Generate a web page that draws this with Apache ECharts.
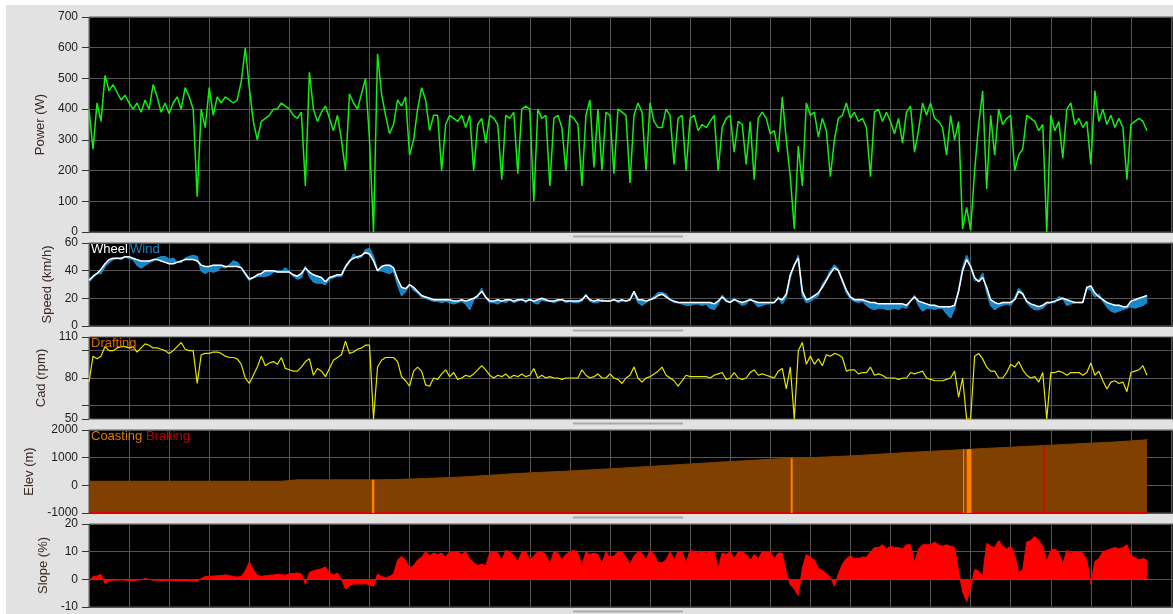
<!DOCTYPE html>
<html><head><meta charset="utf-8">
<script src="https://cdn.jsdelivr.net/npm/echarts@6/dist/echarts.min.js"></script>
<style>html,body{margin:0;padding:0;background:#e2e2e2;overflow:hidden}#c{width:1173px;height:614px}</style>
</head><body><div id="c"></div><script>
// ---- data (one sample every 0.1 grid division) ----
const STEP = 0.1;
const ELEV_STEP = 0.4;
const X_MAX = 27.05;

const POWER = [
 400,270,420,360,510,460,480,455,430,445,
 420,400,420,390,430,400,480,440,390,420,
 385,420,440,400,470,440,400,115,400,340,
 470,380,440,420,440,430,420,430,490,600,
 470,360,300,360,370,380,400,400,420,410,
 400,380,370,390,150,520,400,360,390,410,
 370,330,380,300,200,450,420,400,450,500,
 300,0,580,450,380,320,350,430,410,440,
 250,300,400,470,430,330,380,380,200,350,
 380,370,360,380,340,380,200,350,370,290,
 380,370,350,170,380,370,390,190,400,410,
 400,100,400,370,380,150,370,380,340,200,
 380,370,350,150,380,430,210,400,200,390,
 380,190,400,390,380,160,380,420,390,200,
 420,360,340,340,400,380,220,370,380,200,
 370,380,330,350,340,360,380,200,340,370,
 380,260,360,350,220,360,170,370,390,370,
 320,330,260,440,300,180,10,280,150,420,
 380,390,310,370,330,180,300,370,380,420,
 370,390,360,370,340,180,390,400,360,390,
 360,320,370,290,390,410,260,330,420,380,
 420,370,360,340,250,380,300,360,10,80,
 5,200,350,460,140,380,250,400,350,370,
 380,200,250,270,380,370,360,330,350,0,
 380,330,360,240,400,420,350,370,340,360,
 220,460,360,400,350,380,340,370,340,170,
 350,360,370,360,330
];
const WHEEL = [
 33,36,38,41,45,48,49,49,49,50,
 50,49,48,47,47,47,48,48,47,46,
 45,45,46,47,48,48,48,47,44,43,
 43,44,44,44,43,43,43,43,42,38,
 34,35,37,38,40,40,40,39,39,39,
 39,37,36,38,42,39,37,36,35,32,
 35,36,37,37,43,47,49,50,51,53,
 52,47,40,43,44,44,42,34,28,27,
 30,28,25,22,21,20,19,19,19,19,
 19,18,18,19,18,19,20,22,25,21,
 18,18,19,18,19,19,18,19,19,18,
 19,18,19,20,19,18,18,19,19,18,
 18,18,18,19,22,19,18,19,18,18,
 18,19,18,19,18,19,25,19,19,18,
 19,20,22,23,21,19,18,17,17,17,
 17,17,17,17,17,17,16,18,21,18,
 17,19,18,17,18,19,18,17,17,17,
 17,17,20,19,23,37,44,49,25,19,
 20,22,24,28,33,38,42,40,33,26,
 21,19,19,19,18,17,17,16,16,16,
 16,16,16,16,15,18,21,18,17,16,
 15,15,14,14,14,14,15,25,40,48,
 43,35,32,35,28,19,17,16,17,17,
 17,19,25,23,18,16,15,14,15,17,
 17,18,19,20,19,18,17,17,17,28,
 29,24,21,19,17,16,15,15,14,14,
 18,19,20,21,22
];
const WIND = [
 32,35,38,38,43,46,48,49,48,50,
 49,48,44,42,44,46,47,49,50,50,
 48,49,46,46,49,50,51,50,40,38,
 40,39,40,43,42,44,47,46,42,37,
 33,35,36,36,36,37,39,40,39,42,
 39,36,34,35,43,36,32,31,31,30,
 34,35,36,36,42,46,52,49,50,55,
 56,50,40,40,39,38,40,30,22,25,
 30,26,24,21,20,19,18,18,17,18,
 17,16,17,18,16,12,19,21,27,20,
 17,17,16,18,17,19,17,18,20,17,
 20,17,16,19,18,18,17,18,19,17,
 18,17,17,18,23,18,17,17,19,18,
 18,19,17,18,18,19,24,17,15,17,
 19,21,24,24,23,19,17,17,16,15,
 15,16,16,15,16,13,12,16,22,19,
 17,20,17,15,16,20,17,14,15,16,
 16,17,21,16,21,35,44,51,22,17,
 18,20,22,30,34,40,44,41,32,24,
 20,18,17,18,15,13,12,13,13,12,
 12,13,12,14,13,18,22,15,11,13,
 13,12,13,13,9,6,13,26,42,51,
 43,33,33,38,25,15,12,14,15,16,
 15,20,27,24,17,14,12,12,13,16,
 17,17,21,20,15,16,17,17,17,27,
 26,21,23,18,14,11,10,11,12,13,
 14,13,14,15,17
];
const CADENCE = [
 77,96,94,96,103,100,100,102,103,103,
 102,103,99,102,105,104,102,102,101,100,
 98,100,103,106,101,100,100,76,97,98,
 98,99,99,98,96,95,95,94,90,80,
 76,82,88,96,89,91,92,90,95,87,
 86,85,85,88,92,94,82,87,85,81,
 87,93,95,97,107,98,99,101,102,104,
 104,50,88,93,95,95,95,92,81,78,
 74,85,88,85,75,74,80,79,83,86,
 81,84,79,80,82,81,83,86,89,86,
 82,80,82,81,83,80,82,81,83,81,
 82,87,80,82,80,81,80,80,79,80,
 80,80,80,86,82,80,81,83,80,80,
 83,80,79,76,80,82,88,80,77,80,
 81,83,85,88,82,80,78,74,78,82,
 81,81,81,81,81,80,82,83,84,79,
 80,84,80,79,80,84,86,82,83,82,
 81,80,85,87,72,88,50,100,106,90,
 96,90,94,89,97,96,98,97,95,85,
 86,86,83,84,84,88,82,83,82,80,
 80,80,79,80,80,84,83,84,85,80,
 79,78,78,78,79,80,85,66,80,50,
 50,96,98,94,88,85,85,80,80,84,
 90,88,92,86,82,80,81,77,84,50,
 84,84,85,84,82,84,84,84,82,84,
 91,82,85,78,72,77,78,76,77,70,
 84,85,86,89,82
];
const ELEVATION = [
 146,146,146,146,146,146,146,146,146,146,146,146,
 200,200,200,200,200,200,210,225,250,270,295,325,360,400,
 435,465,490,520,550,580,612,650,685,720,755,790,825,860,
 890,925,958,980,1000,1025,1050,1080,1115,1150,1185,1215,1245,1275,
 1305,1335,1365,1395,1420,1450,1480,1510,1540,1570,1605,1645,1690
];
const SLOPE = [
 -1,1,1.2,1.8,-1.5,-0.5,-0.3,-0.3,-0.2,-0.3,
 -0.4,-0.5,-0.3,-0.2,0.3,0,-0.3,-0.3,-0.5,-0.4,
 -0.3,-0.5,-0.4,-0.5,-0.4,-0.5,-0.6,-0.8,0.3,1,
 1.1,1.2,1.3,1.4,1.6,1.4,1.0,0.8,1,3,
 6.3,3.5,1.5,1,1.3,1.5,1.6,1.8,1.7,1.5,
 2,2.1,2.3,2,-1.8,2.5,3.1,3.5,3.8,4.5,
 2.5,1.5,2.3,0,-3.5,-2.3,-1.7,-1.6,-1.7,-1.5,
 -2,-2.5,2,1,0.6,1,2,7,8.3,7,
 4,5,7,8,10,8.5,9.5,9,9.5,8,
 10,10,10,9,10,7.5,6,5,5.5,5,
 9.5,10,9.5,7,10.5,10,8.5,6.5,9.8,10,
 7,8.5,10,10,9,5.5,10,9.5,7,9,
 10,10.5,9.5,5,10,9,9.5,9,5.5,10,
 8,8.5,10,10,8,5.5,8.5,10,9.5,7,
 10.5,9,6,6,7,10,7,10,10,6,
 10.5,10,9.5,10,9.5,10,10,4,9.5,9,
 10,7.5,10,10,9,7,9,7.5,10,10,
 10,7.5,9.5,9.5,2.5,-2,-3.5,-5.8,4,9,
 8,7,4,3.2,2,0.8,-2.5,2,5.5,7.5,
 8.5,7.5,7.5,8,8,10,11.5,11.5,12.5,11,
 12,11.5,11.5,11,12.5,12.5,6,11,12.5,12.5,
 12.5,13.5,12.5,12,12.5,12,11.5,3,-4.5,-8,
 -3,3.5,3,1.2,13,12,11.5,14,12,11,
 12,9,2.5,3.5,13.5,14,15.5,14,12,6.5,
 10.5,11,9.5,5.5,10.5,9.5,10,10,9.5,7,
 -1.5,6.5,7.5,10,10.5,11,11.5,11,11.5,12.5,
 8.5,8,7,7.5,7
];
const COASTING = [[7.06, 7.12], [17.51, 17.56], [21.81, 21.84], [21.90, 22.02]];
const BRAKING = [[23.82, 23.85]];
const CAD_LABELS = [50, 80, 110];
const CAD_TICKS = [50, 60, 80, 100, 110];
const CAD_GRID = [60, 80, 100];

// ---- styling ----
const FONT = '"Liberation Sans", Arial, sans-serif';
const GRID_COLOR = '#555555';
const NAME_COLOR = '#3b2a22';
const LABEL_COLOR = '#1c1c1c';
const WIND_COLOR = '#1b87c8';

const xy = (arr, step) => arr.map((v, i) => [+(i * step).toFixed(3), v]);
const elevAt = u => ELEVATION[Math.min(ELEVATION.length - 1, Math.floor(u / ELEV_STEP))];
const lastX = (POWER.length - 1) * STEP;

const gridDefs = [
  {top: 17, height: 215},
  {top: 243, height: 83},
  {top: 337, height: 82},
  {top: 430, height: 83},
  {top: 524, height: 83}
];
const grids = gridDefs.map(g => Object.assign({left: 89, right: 0, show: true,
  backgroundColor: '#000', borderColor: '#5a5a5a', borderWidth: 1}, g));

const xAxes = grids.map((g, i) => ({
  gridIndex: i, type: 'value', min: 0, max: X_MAX, interval: 1,
  axisLine: {show: false}, axisTick: {show: false}, axisLabel: {show: false},
  splitLine: {show: true, lineStyle: {color: GRID_COLOR, width: 1}}
}));

function yAx(i, name, min, max, interval, gap, custom) {
  const ax = {
    gridIndex: i, type: 'value', min, max, interval, name,
    nameLocation: 'middle', nameGap: gap,
    nameTextStyle: {color: NAME_COLOR, fontSize: 13, fontFamily: FONT},
    axisLine: {show: false},
    axisTick: {show: true, length: 7, lineStyle: {color: '#333'}},
    axisLabel: {color: LABEL_COLOR, fontSize: 12, fontFamily: FONT, margin: 11,
      formatter: v => String(v)},
    splitLine: {show: true, lineStyle: {color: GRID_COLOR, width: 1}}
  };
  if (custom) {
    ax.axisLabel.customValues = custom.labels;
    ax.axisTick.customValues = custom.ticks;
    ax.splitLine.show = false;
  }
  return ax;
}
const yAxes = [
  yAx(0, 'Power (W)', 0, 700, 100, 29),
  yAx(1, 'Speed (km/h)', 0, 60, 20, 24),
  yAx(2, 'Cad (rpm)', 50, 110, 10, 29, {labels: CAD_LABELS, ticks: CAD_TICKS}),
  yAx(3, 'Elev (m)', -1000, 2000, 1000, 42),
  yAx(4, 'Slope (%)', -10, 20, 10, 29)
];

const lineBase = {type: 'line', showSymbol: false, symbol: 'none', silent: true, animation: false};

// band between wheel speed and wind speed, drawn segment by segment through the axes
function bandItem(params, api) {
  const i = params.dataIndex;
  if (i >= WHEEL.length - 1) return null;
  const x0 = i * STEP, x1 = (i + 1) * STEP;
  const pts = [
    api.coord([x0, WHEEL[i]]), api.coord([x0, WIND[i]]),
    api.coord([x1, WIND[i + 1]]), api.coord([x1, WHEEL[i + 1]])
  ];
  return {type: 'polygon', shape: {points: pts},
    style: {fill: WIND_COLOR, stroke: WIND_COLOR, lineWidth: 0.6}};
}

const series = [
  Object.assign({}, lineBase, {name: 'Power', xAxisIndex: 0, yAxisIndex: 0,
    data: xy(POWER, STEP), lineStyle: {color: '#12ee12', width: 1.5}}),
  {type: 'custom', name: 'WindBand', xAxisIndex: 1, yAxisIndex: 1, silent: true, animation: false,
    clip: true, renderItem: bandItem,
    encode: {x: 0, y: [1, 2]},
    data: WHEEL.map((w, i) => [+(i * STEP).toFixed(3), w, WIND[i]])},
  Object.assign({}, lineBase, {name: 'Wind', xAxisIndex: 1, yAxisIndex: 1,
    data: xy(WIND, STEP), lineStyle: {color: WIND_COLOR, width: 1.5}}),
  Object.assign({}, lineBase, {name: 'Wheel', xAxisIndex: 1, yAxisIndex: 1, z: 4,
    data: xy(WHEEL, STEP), lineStyle: {color: '#ffffff', width: 1.5}}),
  Object.assign({}, lineBase, {name: 'CadGrid', xAxisIndex: 2, yAxisIndex: 2, z: 1,
    data: [[0, null]], lineStyle: {opacity: 0},
    markLine: {silent: true, symbol: 'none', z: 1, animation: false, label: {show: false},
      emphasis: {disabled: true},
      lineStyle: {color: GRID_COLOR, type: 'solid', width: 1},
      data: CAD_GRID.map(v => ({yAxis: v}))}}),
  Object.assign({}, lineBase, {name: 'Cadence', xAxisIndex: 2, yAxisIndex: 2, z: 3,
    data: xy(CADENCE, STEP), lineStyle: {color: '#e6e600', width: 1.2}}),
  Object.assign({}, lineBase, {name: 'Elevation', xAxisIndex: 3, yAxisIndex: 3, step: 'end',
    data: xy(ELEVATION, ELEV_STEP), lineStyle: {color: '#804000', width: 1},
    areaStyle: {color: '#804000', opacity: 1, origin: 'start'}}),
  Object.assign({}, lineBase, {name: 'Braking', xAxisIndex: 3, yAxisIndex: 3, z: 4,
    data: [[0, -1000], [lastX, -1000]], lineStyle: {color: '#e00000', width: 2},
    markArea: {silent: true, z: 5, animation: false, label: {show: false}, emphasis: {disabled: true},
      data: COASTING.map(([a, b]) => [{coord: [a, -1000], itemStyle: {color: '#ff8000', opacity: 1}}, {coord: [b, elevAt((a + b) / 2)]}])
        .concat(BRAKING.map(([a, b]) => [{coord: [a, -1000], itemStyle: {color: '#d00000', opacity: 1}}, {coord: [b, elevAt((a + b) / 2)]}]))}}),
  Object.assign({}, lineBase, {name: 'Slope', xAxisIndex: 4, yAxisIndex: 4,
    data: xy(SLOPE, STEP), lineStyle: {color: '#ff0000', width: 1},
    areaStyle: {color: '#ff0000', opacity: 1}})
];

const txt = (x, y, text, fill) => ({type: 'text', x, y, silent: true, z: 100,
  style: {text, fill, font: '13px ' + FONT, align: 'left', verticalAlign: 'top'}});
const scroll = y => ({type: 'line', silent: true, z: 100,
  shape: {x1: 573, y1: y, x2: 683, y2: y}, style: {stroke: '#a8a8a8', lineWidth: 2}});

const graphic = [
  {type: 'rect', silent: true, z: -1, shape: {x: 0, y: 0, width: 1173, height: 5}, style: {fill: '#ffffff'}},
  {type: 'rect', silent: true, z: -1, shape: {x: 0, y: 0, width: 6, height: 614}, style: {fill: '#ffffff'}},
  scroll(236.5), scroll(330.5), scroll(423.5), scroll(517.5), scroll(611.5),
  txt(91, 243, 'Wheel', '#ffffff'), txt(130, 243, 'Wind', WIND_COLOR),
  txt(91, 337, 'Drafting', '#d86c00'),
  txt(91, 430, 'Coasting', '#e07800'), txt(146, 430, 'Braking', '#c00000')
];

const chart = echarts.init(document.getElementById('c'), null, {renderer: 'canvas'});
chart.setOption({
  backgroundColor: '#e2e2e2',
  animation: false,
  grid: grids, xAxis: xAxes, yAxis: yAxes, series, graphic
});
</script></body></html>
